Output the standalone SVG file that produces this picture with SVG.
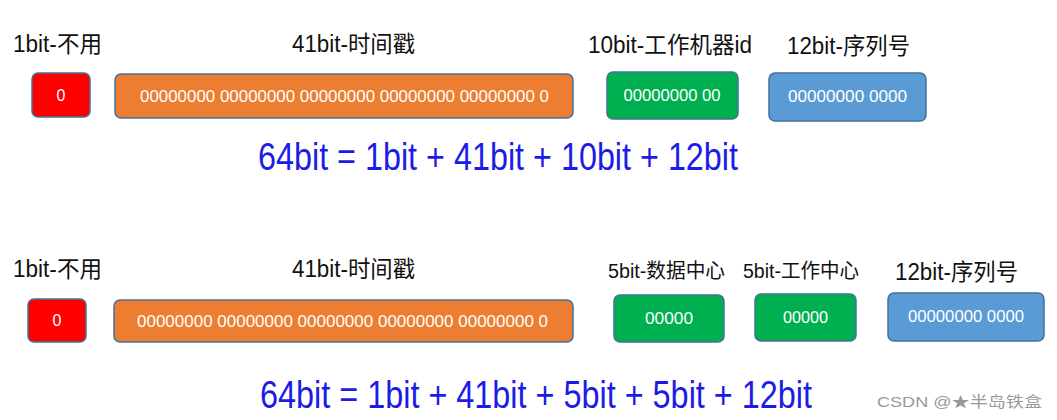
<svg xmlns="http://www.w3.org/2000/svg" width="1057" height="420" viewBox="0 0 1057 420">
<style>
.lbl{font-family:"Liberation Sans","Noto Sans CJK SC",sans-serif;font-size:23px;fill:#111}
.lbl2{font-family:"Liberation Sans","Noto Sans CJK SC",sans-serif;font-size:20px;fill:#111}
.box{stroke:#41719C;stroke-width:1.5}
.bt{font-family:"Liberation Sans",sans-serif;font-size:16px;fill:#fff;text-anchor:middle}
.f{font-family:"Liberation Sans",sans-serif;fill:#1c1ce6}
.red{fill:#FF0000}.org{fill:#ED7D31}.grn{fill:#00B050}.blu{fill:#5B9BD5}
.wm{font-family:"Liberation Sans","Noto Sans CJK SC",sans-serif;font-size:15px;fill:#999}
</style>
<rect width="1057" height="420" fill="#fff"/>
<g id="row1">
<g id="r1-sign"><text class="lbl" x="13" y="52" textLength="89" lengthAdjust="spacingAndGlyphs">1bit-不用</text><rect class="box red" x="32" y="73" width="58" height="44" rx="6"/><text class="bt" x="61" y="101">0</text></g>
<g id="r1-time"><text class="lbl" x="292" y="52" textLength="123" lengthAdjust="spacingAndGlyphs">41bit-时间戳</text><rect class="box org" x="115" y="74" width="458" height="44" rx="6"/><text class="bt" x="344.5" y="102" textLength="409" lengthAdjust="spacingAndGlyphs">00000000 00000000 00000000 00000000 00000000 0</text></g>
<g id="r1-machine"><text class="lbl" x="588" y="53" textLength="164" lengthAdjust="spacingAndGlyphs">10bit-工作机器id</text><rect class="box grn" x="607" y="72" width="131" height="47" rx="6"/><text class="bt" x="672" y="101" textLength="97" lengthAdjust="spacingAndGlyphs">00000000 00</text></g>
<g id="r1-seq"><text class="lbl" x="787" y="54" textLength="123" lengthAdjust="spacingAndGlyphs">12bit-序列号</text><rect class="box blu" x="769" y="73" width="157" height="48" rx="6"/><text class="bt" x="847.5" y="102" textLength="119" lengthAdjust="spacingAndGlyphs">00000000 0000</text></g>
<text class="f" font-size="32.5" transform="translate(258,170) scale(1,1.17)" x="0" y="0" textLength="480" lengthAdjust="spacingAndGlyphs">64bit = 1bit + 41bit + 10bit + 12bit</text>
</g>
<g id="row2">
<g id="r2-sign"><text class="lbl" x="13" y="277" textLength="89" lengthAdjust="spacingAndGlyphs">1bit-不用</text><rect class="box red" x="28" y="299" width="58" height="43" rx="6"/><text class="bt" x="57" y="326">0</text></g>
<g id="r2-time"><text class="lbl" x="292" y="277" textLength="123" lengthAdjust="spacingAndGlyphs">41bit-时间戳</text><rect class="box org" x="114" y="300" width="459" height="42" rx="6"/><text class="bt" x="342.5" y="327" textLength="411" lengthAdjust="spacingAndGlyphs">00000000 00000000 00000000 00000000 00000000 0</text></g>
<g id="r2-dc"><text class="lbl2" x="608" y="278" textLength="117" lengthAdjust="spacingAndGlyphs">5bit-数据中心</text><rect class="box grn" x="614" y="295" width="110" height="47" rx="6"/><text class="bt" x="669" y="324" textLength="48" lengthAdjust="spacingAndGlyphs">00000</text></g>
<g id="r2-wc"><text class="lbl2" x="743" y="278" textLength="116" lengthAdjust="spacingAndGlyphs">5bit-工作中心</text><rect class="box grn" x="755" y="294" width="101" height="47" rx="6"/><text class="bt" x="805.5" y="323" textLength="45" lengthAdjust="spacingAndGlyphs">00000</text></g>
<g id="r2-seq"><text class="lbl" x="895" y="280" textLength="123" lengthAdjust="spacingAndGlyphs">12bit-序列号</text><rect class="box blu" x="888" y="293" width="156" height="48" rx="6"/><text class="bt" x="966" y="322" textLength="116" lengthAdjust="spacingAndGlyphs">00000000 0000</text></g>
<text class="f" font-size="34.5" transform="translate(260,408) scale(1,1.1)" x="0" y="0" textLength="552" lengthAdjust="spacingAndGlyphs">64bit = 1bit + 41bit + 5bit + 5bit + 12bit</text>
</g>
<g id="connectors"></g>
<text class="wm" x="877" y="407" textLength="165" lengthAdjust="spacingAndGlyphs">CSDN @★半岛铁盒</text>
</svg>
